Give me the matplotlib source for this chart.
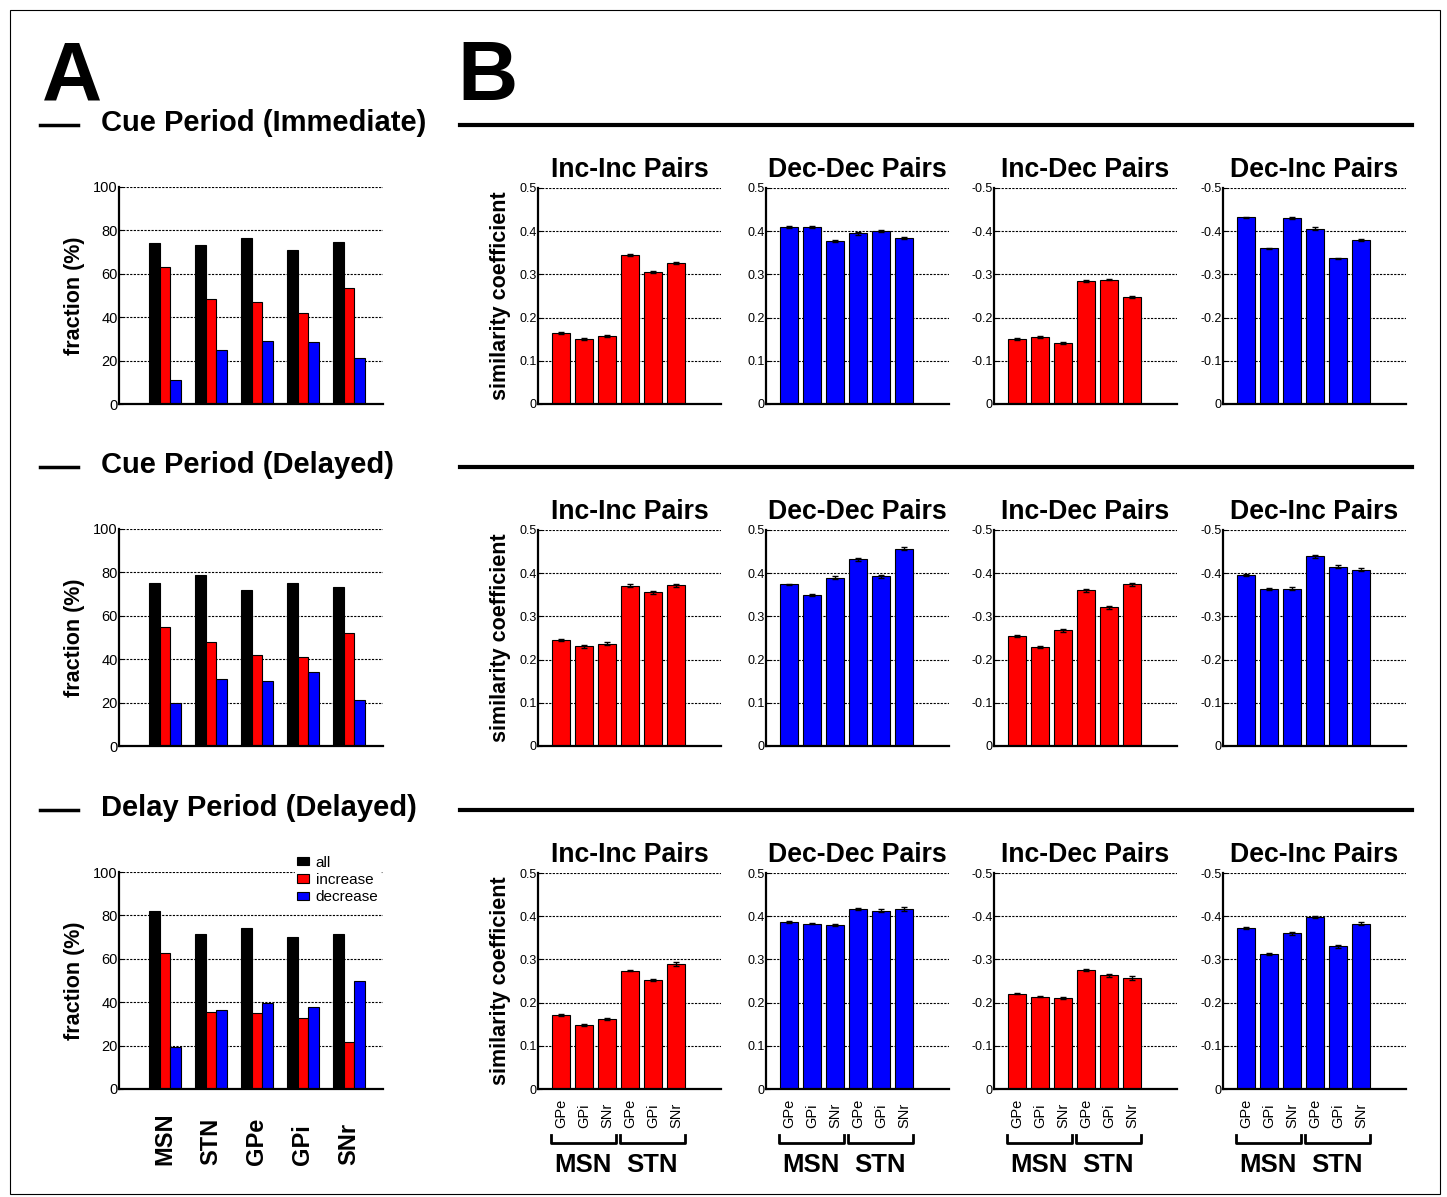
import matplotlib
matplotlib.use("Agg")
import matplotlib.pyplot as plt
import matplotlib.transforms as mtransforms
import numpy as np
from matplotlib.patches import Rectangle
from matplotlib.lines import Line2D

plt.rcParams['font.family'] = ['Liberation Sans', 'DejaVu Sans']
plt.rcParams['axes.unicode_minus'] = False

W, H = 1447, 1197

# ---- data : panel A (fraction of neurons, %) ----
regions = ["MSN", "STN", "GPe", "GPi", "SNr"]
row_titles = ["Cue Period (Immediate)", "Cue Period (Delayed)", "Delay Period (Delayed)"]

cue_imm_all = [74, 73.5, 76.5, 71, 74.5]
cue_imm_inc = [63, 48.5, 47, 42, 53.5]
cue_imm_dec = [11, 25, 29, 28.5, 21]

cue_del_all = [75, 79, 72, 75, 73.5]
cue_del_inc = [55, 48, 42, 41, 52]
cue_del_dec = [20, 31, 30, 34, 21]

delay_all = [82, 71.5, 74, 70, 71.5]
delay_inc = [62.5, 35.5, 35, 32.5, 21.5]
delay_dec = [19.5, 36.5, 39.5, 38, 50]

# ---- data : panel B (similarity coefficient) ----
targets = ["GPe", "GPi", "SNr", "GPe", "GPi", "SNr"]
sources = ["MSN", "STN"]
pair_titles = ["Inc-Inc Pairs", "Dec-Dec Pairs", "Inc-Dec Pairs", "Dec-Inc Pairs"]

r1_inc_inc = [0.165, 0.150, 0.158, 0.345, 0.305, 0.326]
r1_dec_dec = [0.409, 0.410, 0.377, 0.395, 0.400, 0.384]
r1_inc_dec = [-0.150, -0.155, -0.142, -0.285, -0.288, -0.248]
r1_dec_inc = [-0.432, -0.360, -0.430, -0.406, -0.337, -0.380]

r2_inc_inc = [0.245, 0.231, 0.237, 0.371, 0.356, 0.372]
r2_dec_dec = [0.374, 0.350, 0.390, 0.432, 0.393, 0.457]
r2_inc_dec = [-0.255, -0.229, -0.268, -0.360, -0.321, -0.374]
r2_dec_inc = [-0.395, -0.363, -0.364, -0.439, -0.415, -0.408]

r3_inc_inc = [0.171, 0.148, 0.162, 0.274, 0.252, 0.289]
r3_dec_dec = [0.386, 0.383, 0.380, 0.417, 0.413, 0.417]
r3_inc_dec = [-0.221, -0.214, -0.211, -0.276, -0.263, -0.257]
r3_dec_inc = [-0.373, -0.312, -0.360, -0.398, -0.330, -0.383]

r1_err = [0.002, 0.002, 0.002, 0.003, 0.002, 0.002]
r2_err = [0.002, 0.003, 0.003, 0.003, 0.003, 0.004]
r3_err = [0.002, 0.002, 0.003, 0.002, 0.003, 0.004]

RED = "#FF0000"
BLUE = "#0000FF"

fig = plt.figure(figsize=(W / 100, H / 100), dpi=100, facecolor="white")


def px_axes(x0, y_top, x1, y_bot):
    return fig.add_axes([x0 / W, 1 - y_bot / H, (x1 - x0) / W, (y_bot - y_top) / H])


def style(ax, fs):
    ax.spines["top"].set_visible(False)
    ax.spines["right"].set_visible(False)
    ax.spines["left"].set_linewidth(1.6)
    ax.spines["bottom"].set_linewidth(1.6)
    ax.tick_params(axis="y", direction="in", length=3, width=0.8, labelsize=fs, pad=1)
    ax.tick_params(axis="x", length=0, labelbottom=False)
    ax.yaxis.grid(True, color="black", linestyle=(0, (2, 1.2)), linewidth=0.8)
    ax.set_axisbelow(True)


# ---------------- panel A ----------------
a_rows = [(187, 404), (529, 746), (872, 1089)]
a_data = [(cue_imm_all, cue_imm_inc, cue_imm_dec),
          (cue_del_all, cue_del_inc, cue_del_dec),
          (delay_all, delay_inc, delay_dec)]
x = np.arange(1, len(regions) + 1)
bw = 0.23
for i, (yt, yb) in enumerate(a_rows):
    ax = px_axes(119, yt, 383, yb)
    d_all, d_inc, d_dec = a_data[i]
    b1 = ax.bar(x - bw, d_all, bw, color="black", edgecolor="black", linewidth=0.8, label="all")
    b2 = ax.bar(x, d_inc, bw, color=RED, edgecolor="black", linewidth=0.8, label="increase")
    b3 = ax.bar(x + bw, d_dec, bw, color=BLUE, edgecolor="black", linewidth=0.8, label="decrease")
    ax.set_xlim(0, 5.74)
    ax.set_ylim(0, 100)
    ax.set_yticks([0, 20, 40, 60, 80, 100])
    ax.set_yticklabels(["0", "20", "40", "60", "80", "100"])
    style(ax, 10.5)
    ax.set_ylabel("fraction (%)", fontsize=15.5, fontweight="bold", labelpad=6)
    if i == 2:
        leg = ax.legend(handles=[b1, b2, b3], loc="upper left",
                        bbox_to_anchor=(295 / W, 1 - 854 / H),
                        bbox_transform=fig.transFigure, frameon=True, fancybox=False,
                        fontsize=11, handlelength=0.8, handleheight=0.45, handletextpad=0.45,
                        labelspacing=0.22, borderpad=0.1, borderaxespad=0)
        leg.get_frame().set_edgecolor("white")
        leg.get_frame().set_facecolor("white")
        leg.get_frame().set_alpha(1)
        tr = mtransforms.blended_transform_factory(ax.transData, fig.transFigure)
        for k, name in enumerate(regions):
            ax.text(x[k], 1 - 1165 / H, name, transform=tr, rotation=90,
                    rotation_mode="anchor", ha="left", va="center",
                    fontsize=17, fontweight="bold")

# ---------------- panel B ----------------
b_rows = [(188, 404), (530, 746), (873, 1089)]
b_cols = [538, 766, 994, 1223]
b_data = [(r1_inc_inc, r1_dec_dec, r1_inc_dec, r1_dec_inc),
          (r2_inc_inc, r2_dec_dec, r2_inc_dec, r2_dec_inc),
          (r3_inc_inc, r3_dec_dec, r3_inc_dec, r3_dec_inc)]
b_err = [r1_err, r2_err, r3_err]
b_colors = [RED, BLUE, RED, BLUE]
xb = np.arange(1, len(targets) + 1)
for i, (yt, yb) in enumerate(b_rows):
    for j, x0 in enumerate(b_cols):
        ax = px_axes(x0, yt, x0 + 183, yb)
        vals = b_data[i][j]
        ax.bar(xb, vals, 0.78, color=b_colors[j], edgecolor="black", linewidth=0.8,
               yerr=b_err[i], error_kw=dict(ecolor="black", elinewidth=1, capsize=2, capthick=1))
        ax.set_xlim(0, 7.95)
        ticks = [0, 0.1, 0.2, 0.3, 0.4, 0.5]
        if j >= 2:
            ax.set_ylim(0, -0.5)
            ax.set_yticks([-t for t in ticks])
            ax.set_yticklabels(["0", "-0.1", "-0.2", "-0.3", "-0.4", "-0.5"])
        else:
            ax.set_ylim(0, 0.5)
            ax.set_yticks(ticks)
            ax.set_yticklabels(["0", "0.1", "0.2", "0.3", "0.4", "0.5"])
        style(ax, 9)
        ax.set_title(pair_titles[j], fontsize=19.2, fontweight="bold", pad=8)
        if j == 0:
            ax.set_ylabel("similarity coefficient", fontsize=15.5, fontweight="bold", labelpad=6)
        if i == 2:
            tr = mtransforms.blended_transform_factory(ax.transData, fig.transFigure)
            for k, name in enumerate(targets):
                ax.text(xb[k], 1 - 1128 / H, name, transform=tr, rotation=90,
                        rotation_mode="anchor", ha="left", va="center", fontsize=10.5)
            yl = 1 - 1143 / H
            yh = 1 - 1135 / H
            for g, src in enumerate(sources):
                xa = xb[3 * g] - 0.45
                xz = xb[3 * g + 2] + 0.38
                ax.add_line(Line2D([xa, xa, xz, xz], [yh, yl, yl, yh], transform=tr,
                                   color="black", linewidth=2, clip_on=False))
                ax.text((xa + xz) / 2, 1 - 1165 / H, src, transform=tr, ha="center",
                        va="center", fontsize=18.5, fontweight="bold")

# ---------------- headings and separators ----------------
fig.text(42 / W, 1 - 100 / H, "A", fontsize=60, fontweight="bold", va="baseline")
fig.text(457 / W, 1 - 100 / H, "B", fontsize=60, fontweight="bold", va="baseline")
for k, yline in enumerate([125, 467, 810]):
    yf = 1 - yline / H
    fig.add_artist(Line2D([40 / W, 78 / W], [yf, yf], color="black", linewidth=2.5))
    fig.add_artist(Line2D([460 / W, 1412 / W], [yf, yf], color="black", linewidth=3))
    fig.text(101 / W, 1 - (yline + 6) / H, row_titles[k], fontsize=21, fontweight="bold",
             va="baseline", ha="left")

fig.add_artist(Rectangle((10 / W, 1 - 1194 / H), 1430 / W, 1184 / H, transform=fig.transFigure,
                         fill=False, edgecolor="black", linewidth=0.8))

fig.savefig("out.png", dpi=100, facecolor="white")
